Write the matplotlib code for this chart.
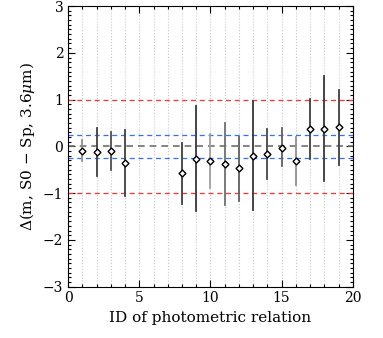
import matplotlib
matplotlib.use('Agg')
import matplotlib.pyplot as plt
from matplotlib.ticker import MultipleLocator

# datos
ids = [1, 2, 3, 4, 8, 9, 10, 11, 12, 13, 14, 15, 16, 17, 18, 19]
delta = [-0.09, -0.13, -0.11, -0.36, -0.58, -0.27, -0.31, -0.37, -0.47, -0.20, -0.16, -0.03, -0.32, 0.37, 0.37, 0.41]
err_top = [0.14, 0.39, 0.30, 0.36, 0.07, 0.86, 0.27, 0.51, 0.21, 0.96, 0.37, 0.39, 0.20, 1.01, 1.51, 1.20]
err_bot = [-0.32, -0.64, -0.51, -1.07, -1.23, -1.39, -0.89, -1.25, -1.16, -1.36, -0.70, -0.43, -0.82, -0.27, -0.75, -0.39]
bar_grey = ['#909090', '#404040', '#505050', '#404040', '#404040', '#383838', '#a0a0a0', '#707070',
            '#606060', '#383838', '#484848', '#606060', '#909090', '#404040', '#383838', '#404040']

plt.rcParams['font.family'] = 'DejaVu Serif'
plt.rcParams['mathtext.fontset'] = 'dejavuserif'

fig = plt.figure(figsize=(3.83, 3.38), dpi=100)
ax = fig.add_axes([0.178, 0.152, 0.743, 0.830])

# lineas verticales punteadas
for i in range(1, 20):
    ax.axvline(i, color='#c8c8c8', ls=':', lw=0.8, zorder=0)

ax.axhline(1, color='#ff3030', ls='--', lw=0.9, dashes=(4, 3))
ax.axhline(-1, color='#ff3030', ls='--', lw=0.9, dashes=(4, 3))
ax.axhline(0.25, color='#3070ff', ls='--', lw=0.9, dashes=(4, 3))
ax.axhline(-0.25, color='#3070ff', ls='--', lw=0.9, dashes=(4, 3))
ax.axhline(0, color='#707070', ls='--', lw=1.2, dashes=(4, 3))

for x, y, t, b, c in zip(ids, delta, err_top, err_bot, bar_grey):
    ax.plot([x, x], [b, t], color=c, lw=1.3, zorder=2)
ax.plot(ids, delta, ls='none', marker='D', ms=3.5, mfc='white', mec='black', mew=1.0, zorder=3)

ax.set_xlim(0, 20)
ax.set_ylim(-3, 3)
ax.xaxis.set_major_locator(MultipleLocator(5))
ax.xaxis.set_minor_locator(MultipleLocator(1))
ax.yaxis.set_major_locator(MultipleLocator(1))
ax.yaxis.set_minor_locator(MultipleLocator(0.1))
ax.tick_params(which='both', direction='in', top=True, right=True, labelsize=10, width=0.8)
ax.tick_params(which='major', length=5)
ax.tick_params(which='minor', length=2.5)
ax.set_xlabel('ID of photometric relation', fontsize=11)
ax.set_ylabel(r'$\Delta$(m, S0 $-$ Sp, 3.6$\mu$m)', fontsize=11)

fig.savefig('out.png', dpi=100)
